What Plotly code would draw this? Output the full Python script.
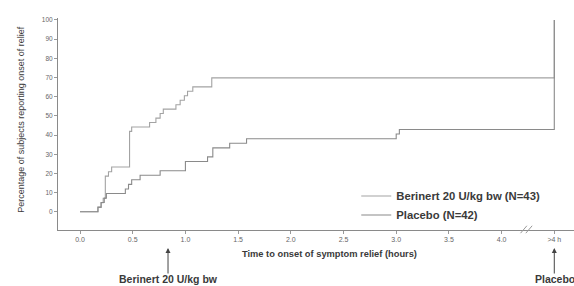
import plotly.graph_objects as go

# Time to onset of relief (hours); 4.5 stands for the ">4 h" category
berinert_t = [0.0, 0.17, 0.20, 0.22, 0.24, 0.27, 0.30, 0.47, 0.49, 0.66, 0.72, 0.76, 0.79, 0.91, 0.95, 0.99, 1.02, 1.07, 1.25, 4.5]
berinert_pct = [0.0, 2.3, 4.7, 7.0, 18.6, 20.9, 23.3, 41.9, 44.2, 46.5, 48.8, 51.2, 53.5, 55.8, 58.1, 60.5, 62.8, 65.1, 69.8, 100.0]

placebo_t = [0.0, 0.17, 0.20, 0.23, 0.25, 0.43, 0.46, 0.49, 0.57, 0.76, 1.0, 1.21, 1.26, 1.42, 1.58, 3.0, 3.03, 4.5]
placebo_pct = [0.0, 2.4, 4.8, 7.1, 9.5, 11.9, 14.3, 16.7, 19.0, 21.4, 26.2, 28.6, 33.3, 35.7, 38.1, 40.5, 42.9, 100.0]

x_tickvals = [0.0, 0.5, 1.0, 1.5, 2.0, 2.5, 3.0, 3.5, 4.0, 4.5]
x_ticktext = ["0.0", "0.5", "1.0", "1.5", "2.0", "2.5", "3.0", "3.5", "4.0", ">4 h"]
y_tickvals = [0, 10, 20, 30, 40, 50, 60, 70, 80, 90, 100]

series_names = ["Berinert 20 U/kg bw (N=43)", "Placebo (N=42)"]
x_title = "Time to onset of symptom relief (hours)"
y_title = "Percentage of subjects reporting onset of relief"
median_labels = ["Berinert 20 U/kg bw", "Placebo"]
median_times = [0.835, 4.5]

TXT = "#3a3a3a"
FONT = "Liberation Sans, Arial, sans-serif"

fig = go.Figure()
fig.add_trace(go.Scatter(x=berinert_t, y=berinert_pct, mode="lines", line_shape="hv",
                         line=dict(color="#a3a3a3", width=1.1), name=series_names[0]))
fig.add_trace(go.Scatter(x=placebo_t, y=placebo_pct, mode="lines", line_shape="hv",
                         line=dict(color="#8a8a8a", width=1.1), name=series_names[1]))

fig.update_layout(
    width=574, height=286,
    margin=dict(l=58, r=0, t=18, b=56, autoexpand=False),
    paper_bgcolor="white", plot_bgcolor="white",
    font=dict(family=FONT, color=TXT, size=8),
    showlegend=True,
    legend=dict(x=0.578, y=0.229, xanchor="left", yanchor="top",
                bgcolor="rgba(0,0,0,0)", font=dict(size=11.3, color=TXT, weight="bold"),
                tracegroupgap=0, itemwidth=30),
    xaxis=dict(range=[-0.209, 4.687], tickvals=x_tickvals, ticktext=x_ticktext, automargin=False,
               showgrid=False, zeroline=False, showline=True, linecolor="#8a8a8a", linewidth=1,
               ticks="outside", ticklen=3, tickcolor="#9a9a9a",
               tickfont=dict(size=7, color="#666")),
    yaxis=dict(range=[-9.5, 101], tickvals=y_tickvals, automargin=False,
               showgrid=False, zeroline=False, showline=True, linecolor="#8a8a8a", linewidth=1,
               ticks="outside", ticklen=3, tickcolor="#9a9a9a",
               tickfont=dict(size=6.5, color="#666")),
)

# axis titles
fig.add_annotation(x=0.527, y=-0.113, xref="paper", yref="paper", showarrow=False,
                   text="<b>" + x_title + "</b>", font=dict(size=9.3, color=TXT), yanchor="middle")
fig.add_annotation(x=0, y=0.52, xref="paper", yref="paper", showarrow=False, xshift=-44,
                   text=y_title, textangle=-90, font=dict(size=9, color=TXT))

# axis break marks between 4.0 and >4 h
for dx in (0.0, 0.05):
    fig.add_shape(type="line", xref="x", yref="paper",
                  x0=4.18 + dx, x1=4.24 + dx, y0=-0.015, y1=0.02,
                  line=dict(color="#999", width=1))

# arrows marking median times
for t, lab, xs in zip(median_times, median_labels, [None, -21]):
    fig.add_annotation(x=t, y=-0.085, xref="x", yref="paper", ax=0, ay=27,
                       showarrow=True, arrowhead=2, arrowsize=1, arrowwidth=1, arrowcolor="#444",
                       text="")
    if xs is None:
        fig.add_annotation(x=t, y=-0.231, xref="x", yref="paper", showarrow=False,
                           text="<b>" + lab + "</b>", font=dict(size=10.5, color=TXT),
                           yanchor="middle")
    else:
        fig.add_annotation(x=t, y=-0.231, xref="x", yref="paper", showarrow=False,
                           xanchor="left", xshift=xs,
                           text="<b>" + lab + "</b>", font=dict(size=10.5, color=TXT),
                           yanchor="middle")

fig.write_html("out.html", config={"displayModeBar": False},
               post_script="document.body.style.margin='0';document.body.style.overflow='hidden';")
